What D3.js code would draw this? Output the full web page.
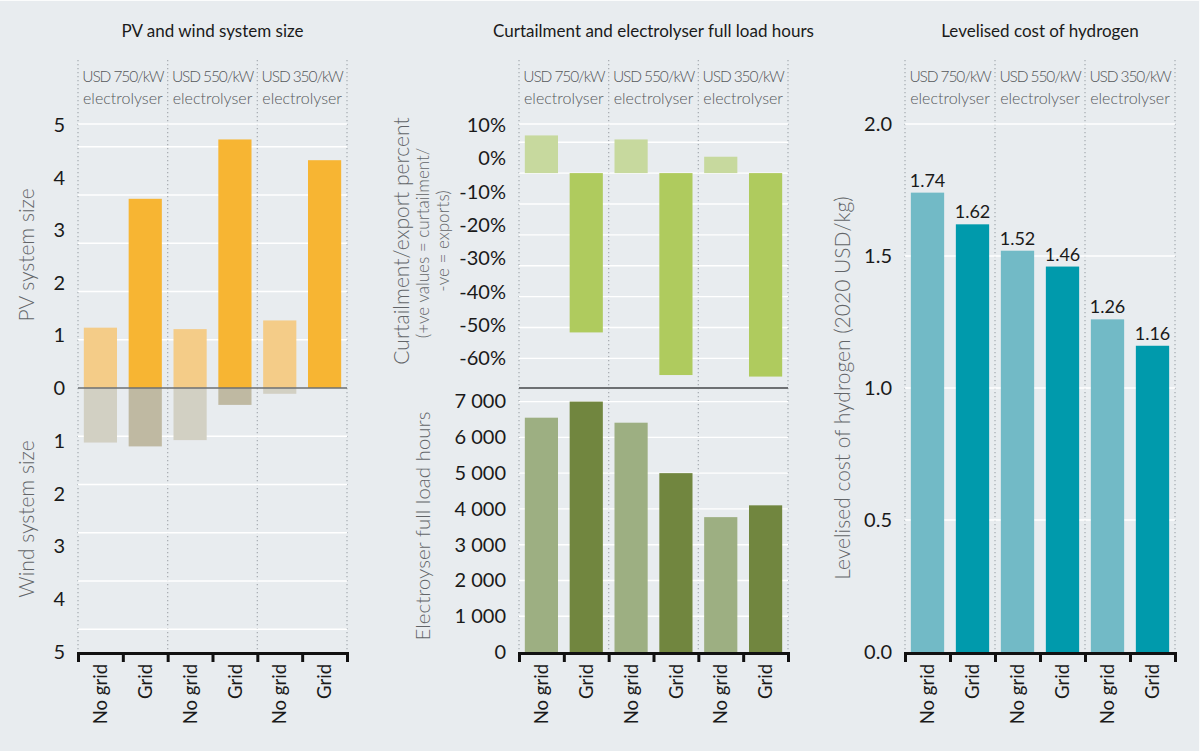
<!DOCTYPE html>
<html>
<head>
<meta charset="utf-8">
<script src="https://cdn.jsdelivr.net/npm/d3@7"></script>
<style>
  body { margin: 0; background: #e8ecef; }
  svg { display: block; font-family: Lato, "Open Sans", sans-serif; }
</style>
</head>
<body>
<svg id="chart" width="1200" height="751"></svg>
<script>
// categories
const groups = ["USD 750/kW", "USD 550/kW", "USD 350/kW"];
const cases = ["No grid", "Grid"];

// values (order: 750 no grid, 750 grid, 550 no grid, ...)
const pvSize = [1.25, 3.92, 1.22, 5.15, 1.40, 4.72];
const windSize = [1.13, 1.21, 1.08, 0.35, 0.12, 0];
const curtailment = [12.2, -51.6, 10.9, -65.4, 5.3, -65.9];
const fullLoadHours = [6550, 7000, 6410, 5000, 3770, 4100];
const lcoh = [1.74, 1.62, 1.52, 1.46, 1.26, 1.16];

// tick labels
const pvTicks = [0, 1, 2, 3, 4, 5];
const windTicks = [1, 2, 3, 4, 5];
const curtTicks = [10, 0, -10, -20, -30, -40, -50, -60];
const flhTicks = [0, 1000, 2000, 3000, 4000, 5000, 6000, 7000];
const lcohTicks = [0, 0.5, 1, 1.5, 2];

const svg = d3.select("#chart");

const plotTop = 124;
const plotBottom = 652;
const splitY = 388;

const spaced = d3.formatLocale({decimal: ".", thousands: " ", grouping: [3], currency: ["", ""]}).format(",");

// background with the thin white edge at top and right
svg.append("rect").attr("width", 1200).attr("height", 751).attr("fill", "#fbfcfc");
svg.append("rect").attr("x", 0).attr("y", 1).attr("width", 1199).attr("height", 750).attr("fill", "#e8ecef");

function panel(x0, x1, title) {
    const g = svg.append("g");

    const x = d3.scaleBand()
        .domain(d3.range(6))
        .range([x0, x1])
        .paddingInner(0.26)
        .paddingOuter(0.13);

    const edge = d3.scaleLinear().domain([0, 6]).range([x0, x1]);

    g.append("text")
        .attr("x", (x0 + x1) / 2)
        .attr("y", 37)
        .attr("text-anchor", "middle")
        .attr("font-size", 17)
        .attr("fill", "#1a1a1a")
        .text(title);

    // group separators
    g.selectAll(".sep")
        .data([0, 2, 4, 6])
        .enter().append("line")
        .attr("x1", d => edge(d))
        .attr("x2", d => edge(d))
        .attr("y1", 60)
        .attr("y2", plotBottom)
        .attr("stroke", "#a9aeb3")
        .attr("stroke-width", 1.3)
        .attr("stroke-dasharray", "1.3,2.7");

    // group headers
    groups.forEach(function(name, i) {
        const cx = edge(2 * i + 1);
        g.append("text")
            .attr("x", cx).attr("y", 82)
            .attr("text-anchor", "middle")
            .attr("font-size", 15.5)
            .attr("font-weight", 300)
            .attr("letter-spacing", -1.1)
            .attr("fill", "#55585b")
            .text(name);
        g.append("text")
            .attr("x", cx).attr("y", 104)
            .attr("text-anchor", "middle")
            .attr("font-size", 16)
            .attr("font-weight", 300)
            .attr("fill", "#55585b")
            .text("electrolyser");
    });

    return {g: g, x: x, edge: edge, x0: x0, x1: x1};
}

function gridlines(p, y, values) {
    p.g.append("g").selectAll("line")
        .data(values)
        .enter().append("line")
        .attr("x1", p.x0)
        .attr("x2", p.x1)
        .attr("y1", d => y(d))
        .attr("y2", d => y(d))
        .attr("stroke", "#ffffff")
        .attr("stroke-width", 1.4);
}

function leftAxis(p, scale, values, fmt) {
    const a = p.g.append("g")
        .attr("transform", `translate(${p.x0},0)`)
        .call(d3.axisLeft(scale).tickValues(values).tickSize(0).tickPadding(13).tickFormat(fmt));
    a.select(".domain").remove();
    a.selectAll("text")
        .attr("font-family", "Lato, sans-serif")
        .attr("font-size", 20)
        .attr("fill", "#1a1a1a");
}

function bottomAxis(p) {
    const t = p.g.append("g")
        .attr("transform", `translate(0,${plotBottom + 1})`)
        .call(d3.axisBottom(p.edge).tickValues(d3.range(7)).tickSize(9).tickSizeOuter(9).tickFormat(""));
    t.select(".domain").attr("stroke", "#111").attr("stroke-width", 3);
    t.selectAll(".tick line").attr("stroke", "#111").attr("stroke-width", 3);

    const l = p.g.append("g")
        .attr("transform", `translate(0,${plotBottom + 10})`)
        .call(d3.axisBottom(p.x).tickSize(0).tickFormat(i => cases[i % 2]));
    l.select(".domain").remove();
    l.selectAll("text")
        .attr("font-family", "Lato, sans-serif")
        .attr("font-size", 18.5)
        .attr("fill", "#1a1a1a")
        .attr("transform", "rotate(-90)")
        .attr("x", -2)
        .attr("y", 0)
        .attr("dy", "0.36em")
        .attr("text-anchor", "end");
}

function axisTitle(x, y, text, size) {
    svg.append("text")
        .attr("transform", `translate(${x},${y}) rotate(-90)`)
        .attr("text-anchor", "middle")
        .attr("font-size", size)
        .attr("font-weight", 300)
        .attr("fill", "#626568")
        .text(text);
}

function bars(p, y, values, colors, base) {
    p.g.append("g").selectAll("rect")
        .data(values)
        .enter().append("rect")
        .attr("x", (d, i) => p.x(i))
        .attr("width", p.x.bandwidth())
        .attr("y", d => Math.min(y(d), y(base)))
        .attr("height", d => Math.abs(y(d) - y(base)))
        .attr("fill", (d, i) => colors[i % 2]);
}

// ---- Panel 1: PV and wind system size
const p1 = panel(78, 347, "PV and wind system size");
const y1 = d3.scaleLinear().domain([-5.47, 5.47]).range([plotBottom, plotTop]);
gridlines(p1, y1, [5.47, 5, 4, 3, 2, 1, -1, -2, -3, -4, -5]);
bars(p1, y1, pvSize, ["#f4cc88", "#f7b533"], 0);
bars(p1, y1, windSize.map(v => -v), ["#d2d0c3", "#bfb9a2"], 0);
p1.g.append("line")
    .attr("x1", p1.x0).attr("x2", p1.x1)
    .attr("y1", y1(0)).attr("y2", y1(0))
    .attr("stroke", "#6d7073").attr("stroke-width", 1.6);
// label positions follow the published figure, spread over each half
const pvLabel = d3.scaleLinear().domain([0, 5]).range([y1(0), plotTop + 1]);
const windLabel = d3.scaleLinear().domain([0, 5]).range([y1(0), plotBottom]);
leftAxis(p1, pvLabel, pvTicks, d3.format("d"));
leftAxis(p1, windLabel, windTicks, d3.format("d"));
bottomAxis(p1);
axisTitle(34, 255, "PV system size", 21);
axisTitle(34, 519, "Wind system size", 21);

// ---- Panel 2: curtailment and full load hours
const p2 = panel(519, 788, "Curtailment and electrolyser full load hours");
const y2a = d3.scaleLinear().domain([-69.6, 15.9]).range([splitY, plotTop]);
const y2b = d3.scaleLinear().domain([0, 7380]).range([plotBottom, splitY]);
gridlines(p2, y2a, [15.9, 10, 0, -10, -20, -30, -40, -50, -60]);
gridlines(p2, y2b, flhTicks.slice(1));
bars(p2, y2a, curtailment, ["#c7d99e", "#afcb5e"], 0);
bars(p2, y2b, fullLoadHours, ["#9daf82", "#71863f"], 0);
p2.g.append("line")
    .attr("x1", p2.x0).attr("x2", p2.x1)
    .attr("y1", splitY).attr("y2", splitY)
    .attr("stroke", "#6d7073").attr("stroke-width", 2);
const curtLabel = d3.scaleLinear().domain([10, -60]).range([plotTop + 1, y2a(-60)]);
leftAxis(p2, curtLabel, curtTicks, d => d + "%");
leftAxis(p2, y2b, flhTicks, spaced);
bottomAxis(p2);
axisTitle(409, 241, "Curtailment/export percent", 21);
axisTitle(429, 243, "(+ve values = curtailment/", 17);
axisTitle(449, 241, "-ve = exports)", 17);
axisTitle(430, 526, "Electroyser full load hours", 20.5);

// ---- Panel 3: levelised cost of hydrogen
const p3 = panel(905, 1175, "Levelised cost of hydrogen");
const y3 = d3.scaleLinear().domain([0, 2]).range([plotBottom, plotTop]);
gridlines(p3, y3, lcohTicks.slice(1));
bars(p3, y3, lcoh, ["#72bac6", "#009aac"], 0);
p3.g.append("g").selectAll("text")
    .data(lcoh)
    .enter().append("text")
    .attr("x", (d, i) => p3.x(i) + p3.x.bandwidth() / 2)
    .attr("y", d => y3(d) - 6)
    .attr("text-anchor", "middle")
    .attr("font-size", 18)
    .attr("fill", "#1a1a1a")
    .text(d => d3.format(".2f")(d));
leftAxis(p3, y3, lcohTicks, d3.format(".1f"));
bottomAxis(p3);
axisTitle(850, 388, "Levelised cost of hydrogen (2020 USD/kg)", 21);
</script>
</body>
</html>
